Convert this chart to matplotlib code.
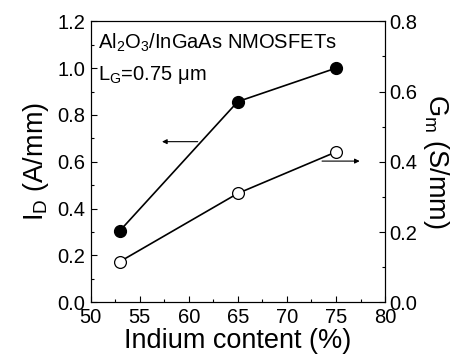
import matplotlib.pyplot as plt
from matplotlib.ticker import MultipleLocator

plt.rcParams['font.family'] = ['Liberation Sans', 'DejaVu Sans']
plt.rcParams['mathtext.fontset'] = 'custom'
plt.rcParams['mathtext.rm'] = 'Liberation Sans'
plt.rcParams['mathtext.it'] = 'Liberation Sans'

# Indium content (%)
indium = [53, 65, 75]
# Drain current (A/mm), left axis
drain_current = [0.306, 0.857, 1.0]
# Transconductance (S/mm), right axis
gm = [0.116, 0.310, 0.428]

fig = plt.figure(figsize=(4.69, 3.64), dpi=100)
ax = fig.add_axes([0.193, 0.1695, 0.628, 0.772])
ax2 = ax.twinx()

ax.plot(indium, drain_current, color='black', lw=1.2, marker='o', ms=8.5,
        mfc='black', mec='black', zorder=3)
ax2.plot(indium, gm, color='black', lw=1.2, marker='o', ms=8.5,
         mfc='white', mec='black', mew=0.9, zorder=3)

ax.set_xlim(50, 80)
ax.set_ylim(0, 1.2)
ax2.set_ylim(0, 0.8)

ax.xaxis.set_major_locator(MultipleLocator(5))
ax.xaxis.set_minor_locator(MultipleLocator(2.5))
ax.yaxis.set_major_locator(MultipleLocator(0.2))
ax.yaxis.set_minor_locator(MultipleLocator(0.1))
ax2.yaxis.set_major_locator(MultipleLocator(0.2))
ax2.yaxis.set_minor_locator(MultipleLocator(0.1))

ax.yaxis.set_major_formatter(lambda v, p: f'{v:.1f}')
ax2.yaxis.set_major_formatter(lambda v, p: f'{v:.1f}')

for a in (ax, ax2):
    a.tick_params(which='both', direction='in', labelsize=14.5, width=0.8)
    a.tick_params(which='major', length=4)
    a.tick_params(which='minor', length=2.5)
ax.tick_params(axis='x', which='both', top=False, pad=4)
ax.tick_params(axis='y', which='both', right=False, pad=4)
ax2.tick_params(axis='y', which='both', pad=3)

ax.set_xlabel('Indium content (%)', fontsize=19.5, labelpad=1)
ax.set_ylabel(r'I$_\mathregular{D}$ (A/mm)', fontsize=19.5, labelpad=4)
ax2.set_ylabel(r'G$_\mathregular{m}$ (S/mm)', fontsize=19.5, rotation=270, labelpad=24)

ax.text(50.75, 1.085, r'Al$_\mathregular{2}$O$_\mathregular{3}$/InGaAs NMOSFETs',
        fontsize=14.5, va='baseline')
ax.text(50.75, 0.949, r'L$_\mathregular{G}$=0.75 $\mu$m', fontsize=14.5, va='baseline')

# arrows pointing to the axis each curve belongs to
ax.annotate('', xy=(57.0, 0.686), xytext=(61.2, 0.686),
            arrowprops=dict(arrowstyle='-|>', color='black', lw=0.8,
                            mutation_scale=7))
ax2.annotate('', xy=(77.7, 0.402), xytext=(73.3, 0.402),
             arrowprops=dict(arrowstyle='-|>', color='black', lw=0.8,
                             mutation_scale=7))

fig.savefig('out.png', dpi=100)
